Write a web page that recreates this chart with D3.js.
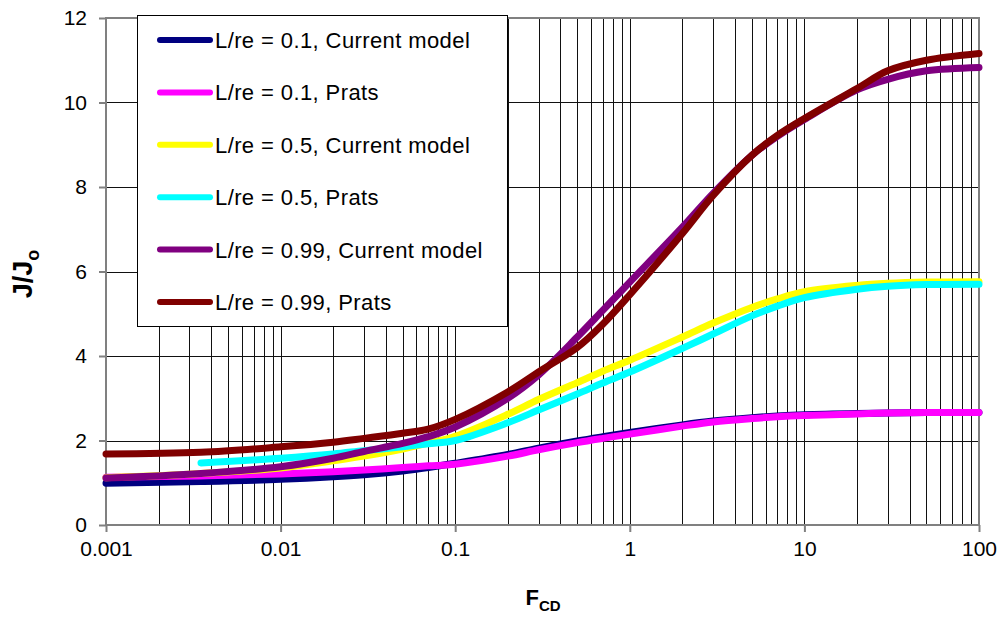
<!DOCTYPE html>
<html><head><meta charset="utf-8">
<script src="https://cdn.jsdelivr.net/npm/d3@7"></script>
<style>body{margin:0;background:#fff;} svg{display:block;font-family:"Liberation Sans",Arial,sans-serif;}</style>
</head><body>
<svg id="chart" width="998" height="619"></svg>
<script>
const fcd = [0.001, 0.0035, 0.01, 0.02, 0.03, 0.05, 0.07, 0.1, 0.2, 0.3, 0.5, 0.7, 1, 2, 3, 5, 7, 10, 20, 30, 50, 100];
const blueCurrent01   = [0.99, 1.03, 1.08, 1.14, 1.19, 1.28, 1.36, 1.46, 1.67, 1.82, 1.99, 2.09, 2.19, 2.37, 2.46, 2.54, 2.58, 2.61, 2.64, 2.65, 2.66, 2.66];
const magentaPrats01  = [1.13, 1.16, 1.21, 1.26, 1.30, 1.36, 1.40, 1.44, 1.63, 1.78, 1.95, 2.05, 2.15, 2.34, 2.44, 2.52, 2.56, 2.59, 2.63, 2.65, 2.66, 2.66];
const yellowCurrent05 = [1.12, 1.22, 1.35, 1.52, 1.63, 1.80, 1.94, 2.10, 2.62, 2.97, 3.37, 3.64, 3.90, 4.45, 4.78, 5.15, 5.35, 5.52, 5.67, 5.72, 5.75, 5.76];
const cyanPrats05     = [null, 1.47, 1.58, 1.68, 1.76, 1.85, 1.92, 2.00, 2.42, 2.72, 3.10, 3.36, 3.62, 4.18, 4.52, 4.95, 5.18, 5.38, 5.58, 5.65, 5.69, 5.70];
const purpleCurrent099= [1.11, 1.22, 1.38, 1.58, 1.74, 1.93, 2.09, 2.32, 3.00, 3.55, 4.45, 5.08, 5.75, 7.05, 7.85, 8.75, 9.20, 9.60, 10.30, 10.55, 10.75, 10.83];
const brownPrats099   = [1.68, 1.72, 1.85, 1.96, 2.05, 2.17, 2.27, 2.50, 3.15, 3.62, 4.20, 4.75, 5.45, 6.90, 7.80, 8.75, 9.22, 9.62, 10.33, 10.75, 11.00, 11.16];
const cyanStartF = 0.0035;

const seriesNames = ["L/re = 0.1, Current model", "L/re = 0.1, Prats", "L/re = 0.5, Current model", "L/re = 0.5, Prats", "L/re = 0.99, Current model", "L/re = 0.99, Prats"];
const seriesColors = ["#000080", "#ff00ff", "#ffff00", "#00ffff", "#800080", "#800000"];
const seriesValues = [blueCurrent01, magentaPrats01, yellowCurrent05, cyanPrats05, purpleCurrent099, brownPrats099];

const xTicks = [0.001, 0.01, 0.1, 1, 10, 100];
const xTickLabels = ["0.001", "0.01", "0.1", "1", "10", "100"];
const yTicks = [0, 2, 4, 6, 8, 10, 12];

const svg = d3.select("#chart");
const L = 106, R = 979, T = 18, B = 525;
const x = d3.scaleLog().domain([0.001, 100]).range([L, R]);
const y = d3.scaleLinear().domain([0, 12]).range([B, T]);

const gridX = [];
for (let e = -3; e < 2; e++) for (let k = 1; k <= 9; k++) gridX.push(k * Math.pow(10, e));
gridX.push(100);

const g = svg.append("g");
g.selectAll("line.vg").data(gridX).enter().append("line")
  .attr("x1", d => Math.round(x(d)) + 0.5).attr("x2", d => Math.round(x(d)) + 0.5)
  .attr("y1", T).attr("y2", B).attr("stroke", "#111").attr("stroke-width", 1);
g.selectAll("line.hg").data(yTicks).enter().append("line")
  .attr("x1", L).attr("x2", R)
  .attr("y1", d => Math.round(y(d)) + 0.5).attr("y2", d => Math.round(y(d)) + 0.5)
  .attr("stroke", "#111").attr("stroke-width", 1);

g.append("rect").attr("x", L).attr("y", T).attr("width", R - L).attr("height", B - T)
  .attr("fill", "none").attr("stroke", "#808080").attr("stroke-width", 2);

const xAxis = d3.axisBottom(x).tickValues(xTicks).tickFormat((d, i) => xTickLabels[i]).tickSize(7).tickPadding(9);
const ax = svg.append("g").attr("transform", `translate(0,${B})`).call(xAxis);
ax.select(".domain").remove();
ax.selectAll(".tick line").attr("stroke", "#808080").attr("stroke-width", 2);
ax.selectAll(".tick text").attr("font-size", 21).attr("fill", "#000").attr("font-family", "Liberation Sans, Arial, sans-serif");

const yAxis = d3.axisLeft(y).tickValues(yTicks).tickSize(7).tickPadding(12);
const ay = svg.append("g").attr("transform", `translate(${L},0)`).call(yAxis);
ay.select(".domain").remove();
ay.selectAll(".tick line").attr("stroke", "#808080").attr("stroke-width", 2);
ay.selectAll(".tick text").attr("font-size", 21).attr("fill", "#000").attr("font-family", "Liberation Sans, Arial, sans-serif");

const line = d3.line().x(d => x(d[0])).y(d => y(d[1])).curve(d3.curveCatmullRom.alpha(0.5));
seriesValues.forEach((vals, i) => {
  let pts = fcd.map((f, j) => [f, vals[j]]).filter(d => d[1] !== null);
  if (i === 3) pts[0][0] = cyanStartF;
  svg.append("path").datum(pts)
    .attr("d", line).attr("fill", "none").attr("stroke", seriesColors[i])
    .attr("stroke-width", 7).attr("stroke-linecap", "round").attr("stroke-linejoin", "round");
});

const lg = svg.append("g");
lg.append("rect").attr("x", 137.5).attr("y", 15.5).attr("width", 370).attr("height", 311)
  .attr("fill", "#fff").attr("stroke", "#000").attr("stroke-width", 1);
seriesNames.forEach((name, i) => {
  const ry = 40 + i * 52.4;
  lg.append("line").attr("x1", 160).attr("x2", 210).attr("y1", ry).attr("y2", ry)
    .attr("stroke", seriesColors[i]).attr("stroke-width", 6).attr("stroke-linecap", "round");
  lg.append("text").attr("x", 215).attr("y", ry).attr("dy", "0.36em")
    .attr("font-size", 22).attr("letter-spacing", 0.4).attr("fill", "#000").text(name);
});

const xt = svg.append("text").attr("x", 543).attr("y", 605).attr("text-anchor", "middle")
  .attr("font-size", 22).attr("font-weight", "bold").attr("fill", "#000");
xt.append("tspan").text("F");
xt.append("tspan").attr("font-size", 15).attr("dy", 6).text("CD");

const yt = svg.append("text").attr("transform", "translate(32,274) rotate(-90)").attr("text-anchor", "middle")
  .attr("font-size", 27).attr("font-weight", "bold").attr("fill", "#000");
yt.append("tspan").text("J/J");
yt.append("tspan").attr("font-size", 18).attr("dy", 7).text("o");
</script>
</body></html>
